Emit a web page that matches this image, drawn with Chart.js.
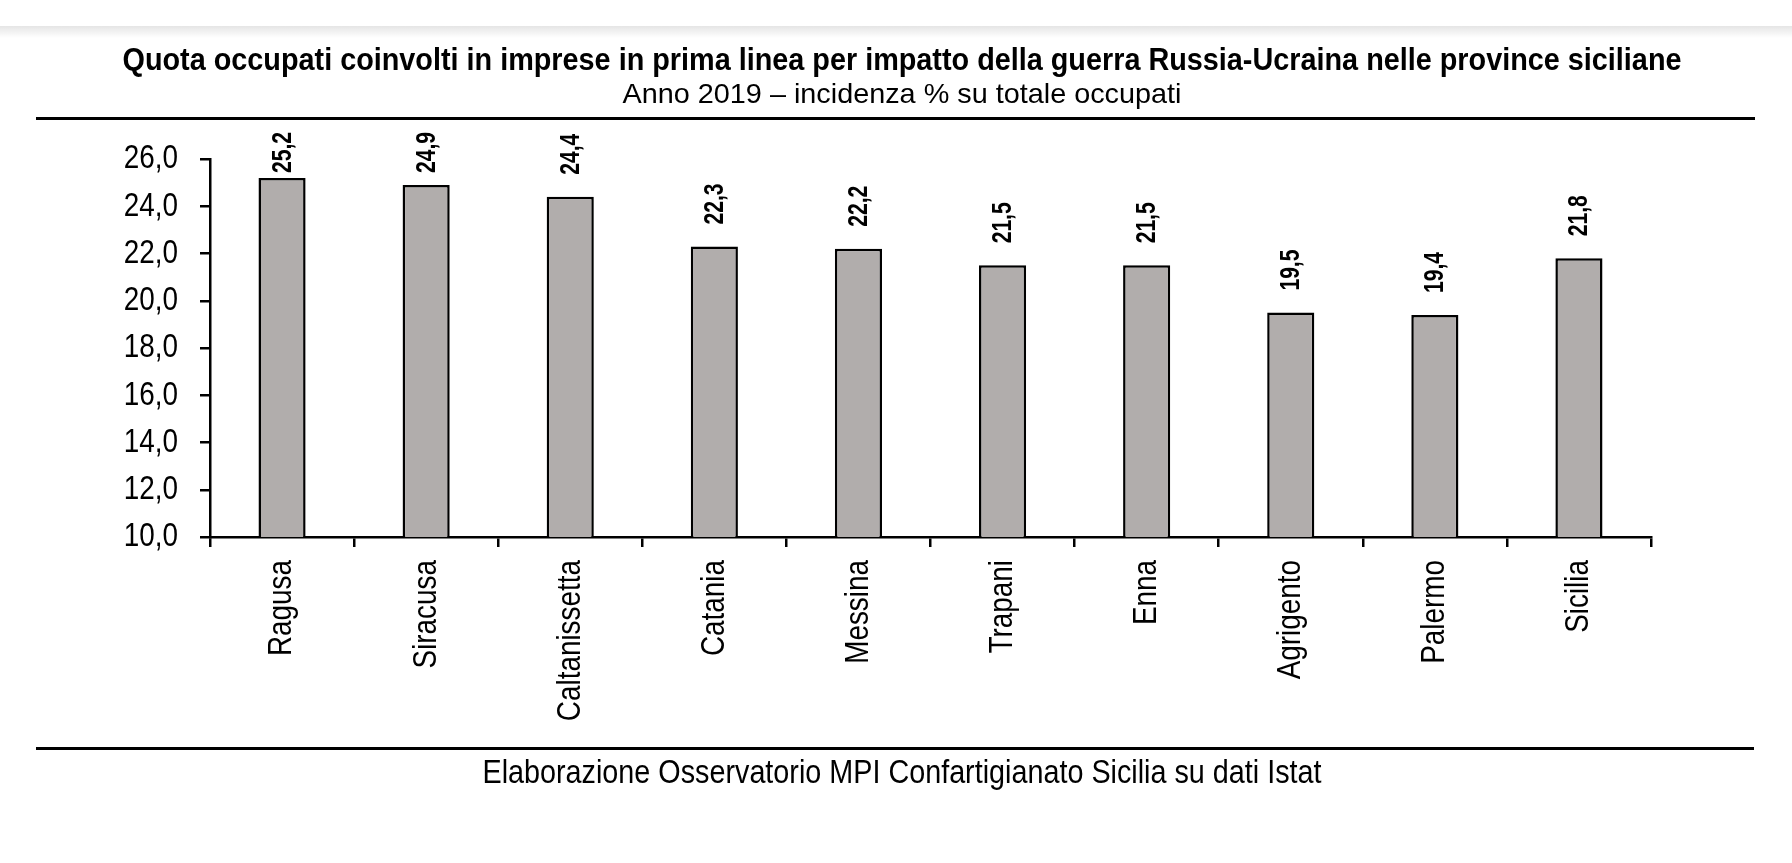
<!DOCTYPE html>
<html lang="it">
<head>
<meta charset="utf-8">
<title>Quota occupati coinvolti in imprese in prima linea</title>
<script src="https://cdn.jsdelivr.net/npm/chart.js@4.4.1/dist/chart.umd.min.js"></script>
<style>
  html, body { margin: 0; padding: 0; background: #fff; }
  canvas { display: block; }
</style>
</head>
<body>
<canvas id="chartProvince" width="1792" height="863"></canvas>
<script>
const province = ['Ragusa', 'Siracusa', 'Caltanissetta', 'Catania', 'Messina', 'Trapani', 'Enna', 'Agrigento', 'Palermo', 'Sicilia'];
const quota    = [25.2, 24.9, 24.4, 22.3, 22.2, 21.5, 21.5, 19.5, 19.4, 21.8];
const yMin = 10, yMax = 26, yStep = 2;

const titolo      = 'Quota occupati coinvolti in imprese in prima linea per impatto della guerra Russia-Ucraina nelle province siciliane';
const sottotitolo = 'Anno 2019 \u2013 incidenza % su totale occupati';
const fonte       = 'Elaborazione Osservatorio MPI Confartigianato Sicilia su dati Istat';

const FONT = '"Liberation Sans Narrow", "Arial Narrow", "Liberation Sans", Arial, sans-serif';
const NARROW = 0.82;   // il carattere stretto non c'è: si comprime in orizzontale
const fmt = v => v.toFixed(1).replace('.', ',');

// testo centrato, adattato alla larghezza del riferimento
function drawFitted(ctx, text, cx, y, font, width) {
  ctx.save();
  ctx.font = font;
  const w = ctx.measureText(text).width;
  ctx.translate(cx, y);
  ctx.scale(width / w, 1);
  ctx.textAlign = 'center';
  ctx.textBaseline = 'alphabetic';
  ctx.fillStyle = '#000';
  ctx.fillText(text, 0, 0);
  ctx.restore();
}

// testo compresso lungo la sua direzione, con rotazione
function drawNarrow(ctx, text, x, y, rot, align, k = NARROW) {
  ctx.save();
  ctx.translate(x, y);
  if (rot) ctx.rotate(rot);
  ctx.scale(k, 1);
  ctx.textAlign = align;
  ctx.textBaseline = 'middle';
  ctx.fillText(text, 0, 0);
  ctx.restore();
}

const cornice = {
  id: 'cornice',
  beforeDraw(chart) {
    const ctx = chart.ctx;
    ctx.save();
    ctx.fillStyle = '#fff';
    ctx.fillRect(0, 0, chart.width, chart.height);
    const g = ctx.createLinearGradient(0, 26, 0, 38);
    g.addColorStop(0, 'rgba(0,0,0,0.10)');
    g.addColorStop(1, 'rgba(0,0,0,0)');
    ctx.fillStyle = g;
    ctx.fillRect(0, 26, chart.width, 12);
    ctx.fillStyle = '#000';
    ctx.fillRect(36, 117, 1719, 3);
    ctx.fillRect(36, 747, 1718, 3);
    ctx.restore();
    drawFitted(ctx, titolo, 902, 70, 'bold 32px ' + FONT, 1559);
    drawFitted(ctx, sottotitolo, 902, 103, '28px ' + FONT, 559);
    drawFitted(ctx, fonte, 902, 783, '33px ' + FONT, 839);
  }
};

const assi = {
  id: 'assi',
  afterDraw(chart) {
    const ctx = chart.ctx;
    const sx = chart.scales.x, sy = chart.scales.y;
    ctx.save();
    ctx.fillStyle = '#000';
    ctx.font = '34px ' + FONT;
    sy.ticks.forEach((t, i) => {
      drawNarrow(ctx, fmt(t.value), sy.right - 32, sy.getPixelForTick(i), 0, 'right');
    });
    sx.ticks.forEach((t, i) => {
      drawNarrow(ctx, province[i], sx.getPixelForTick(i), sx.top + 23, -Math.PI / 2, 'right');
    });
    ctx.restore();
  }
};

const etichette = {
  id: 'etichette',
  afterDatasetsDraw(chart) {
    const ctx = chart.ctx;
    const meta = chart.getDatasetMeta(0);
    const limite = chart.chartArea.top - 27;
    const k = 0.78;
    ctx.save();
    ctx.font = 'bold 27px ' + FONT;
    ctx.fillStyle = '#000';
    meta.data.forEach((bar, i) => {
      const txt = fmt(quota[i]);
      const w = ctx.measureText(txt).width * k;
      let start = bar.y - 22;
      if (start - w < limite) start = limite + w;
      drawNarrow(ctx, txt, bar.x + 1, start, -Math.PI / 2, 'left', k);
    });
    ctx.restore();
  }
};

new Chart(document.getElementById('chartProvince').getContext('2d'), {
  type: 'bar',
  data: {
    labels: province,
    datasets: [{
      data: quota,
      backgroundColor: '#b1adac',
      borderColor: '#000',
      borderWidth: 2.5,
      categoryPercentage: 1,
      barPercentage: 0.327
    }]
  },
  options: {
    responsive: false,
    animation: false,
    devicePixelRatio: 1,
    layout: { padding: { left: 0, top: 159, right: 141, bottom: 0 } },
    plugins: {
      legend: { display: false },
      title: { display: false },
      tooltip: { enabled: false }
    },
    scales: {
      x: {
        afterFit(scale) { scale.height = 326; },
        border: { color: '#000', width: 2.5 },
        grid: { drawOnChartArea: false, drawTicks: true, tickLength: 10, color: '#000', lineWidth: 2.5, offset: true },
        ticks: {
          color: 'rgba(0,0,0,0)',
          font: { family: FONT, size: 34 },
          minRotation: 90,
          maxRotation: 90,
          autoSkip: false
        }
      },
      y: {
        min: yMin,
        max: yMax,
        afterFit(scale) { scale.width = 210; },
        border: { color: '#000', width: 2.5 },
        grid: { drawOnChartArea: false, drawTicks: true, tickLength: 10, color: '#000', lineWidth: 2.5 },
        ticks: {
          stepSize: yStep,
          color: 'rgba(0,0,0,0)',
          font: { family: FONT, size: 34 },
          callback: v => fmt(v)
        }
      }
    }
  },
  plugins: [cornice, assi, etichette]
});
</script>
</body>
</html>
